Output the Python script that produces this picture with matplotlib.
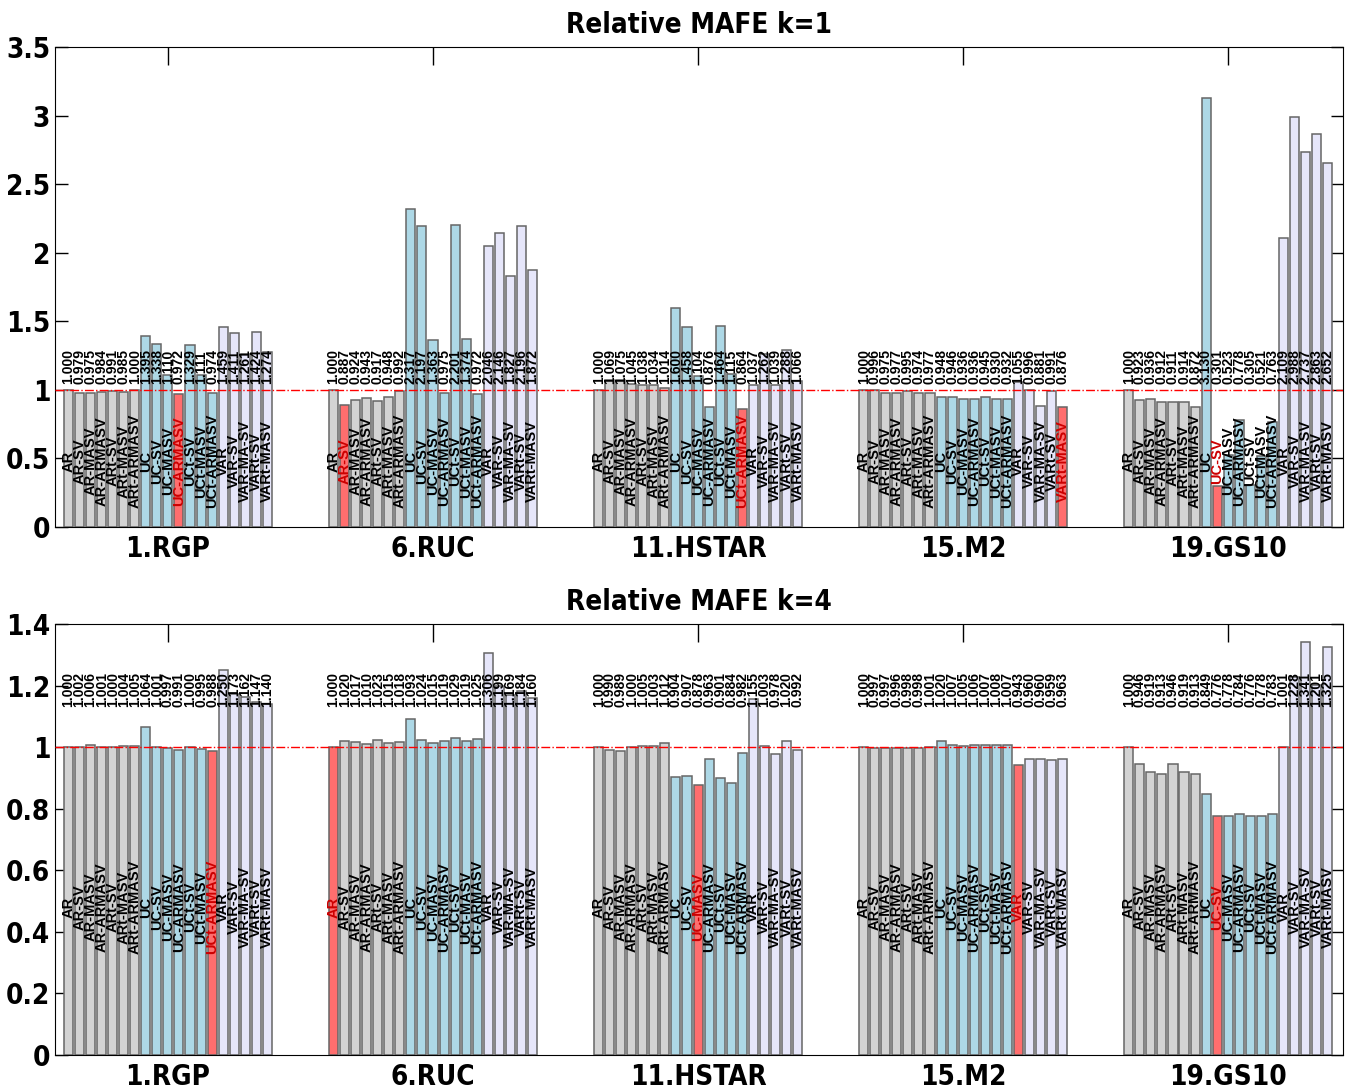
import matplotlib
matplotlib.use("Agg")
import matplotlib.pyplot as plt

# model names (same order in every group)
models = ["AR", "AR-SV", "AR-MASV", "AR-ARMASV", "ARt-SV", "ARt-MASV", "ARt-ARMASV",
          "UC", "UC-SV", "UC-MASV", "UC-ARMASV", "UCt-SV", "UCt-MASV", "UCt-ARMASV",
          "VAR", "VAR-SV", "VAR-MA-SV", "VARt-SV", "VARt-MASV"]
series = ["1.RGP", "6.RUC", "11.HSTAR", "15.M2", "19.GS10"]

# relative MAFE, horizon k=1
k1_rgp = [1.000, 0.979, 0.975, 0.984, 0.991, 0.985, 1.000, 1.395, 1.338, 1.110, 0.972, 1.329, 1.111, 0.974, 1.459, 1.411, 1.261, 1.424, 1.274]
k1_ruc = [1.000, 0.887, 0.924, 0.943, 0.917, 0.948, 0.992, 2.317, 2.197, 1.363, 0.975, 2.201, 1.374, 0.972, 2.046, 2.146, 1.827, 2.196, 1.872]
k1_hstar = [1.000, 1.069, 1.075, 1.045, 1.038, 1.034, 1.014, 1.600, 1.458, 1.104, 0.876, 1.464, 1.115, 0.864, 1.037, 1.262, 1.039, 1.288, 1.066]
k1_m2 = [1.000, 0.996, 0.975, 0.977, 0.995, 0.974, 0.977, 0.948, 0.946, 0.936, 0.936, 0.945, 0.930, 0.932, 1.055, 0.996, 0.881, 0.991, 0.876]
k1_gs10 = [1.000, 0.923, 0.936, 0.912, 0.911, 0.914, 0.872, 3.130, 0.301, 0.523, 0.778, 0.305, 0.521, 0.763, 2.109, 2.988, 2.737, 2.863, 2.652]
k1_best = [10, 1, 13, 18, 8]

# relative MAFE, horizon k=4
k4_rgp = [1.000, 1.002, 1.006, 1.001, 1.000, 1.004, 1.005, 1.064, 1.001, 0.997, 0.991, 1.000, 0.995, 0.988, 1.250, 1.173, 1.162, 1.147, 1.140]
k4_ruc = [1.000, 1.020, 1.017, 1.010, 1.023, 1.015, 1.018, 1.093, 1.024, 1.015, 1.019, 1.029, 1.019, 1.025, 1.306, 1.199, 1.169, 1.184, 1.160]
k4_hstar = [1.000, 0.990, 0.989, 1.000, 1.005, 1.003, 1.012, 0.904, 0.907, 0.878, 0.963, 0.901, 0.884, 0.982, 1.155, 1.003, 0.978, 1.020, 0.992]
k4_m2 = [1.000, 0.997, 0.997, 0.996, 0.998, 0.998, 1.001, 1.020, 1.007, 1.005, 1.006, 1.007, 1.008, 1.007, 0.943, 0.960, 0.960, 0.959, 0.963]
k4_gs10 = [1.000, 0.946, 0.919, 0.913, 0.946, 0.919, 0.913, 0.849, 0.776, 0.778, 0.784, 0.776, 0.778, 0.783, 1.001, 1.228, 1.341, 1.201, 1.325]
k4_best = [13, 0, 9, 14, 8]

GREY = "#d3d3d3"
BLUE = "#add8e6"
LAV = "#e6e6fa"
RED = "#ff6e6e"
GAP = 24  # bar slots per group
BIG = dict(fontsize=20, fontweight="bold", family="DejaVu Sans", fontstretch="condensed")


def bar_color(i):
    if i < 7:
        return GREY
    if i < 14:
        return BLUE
    return LAV


def draw(ax, groups, best, ymax, yticks, val_y, title):
    for g, vals in enumerate(groups):
        for i, v in enumerate(vals):
            x = g * GAP + i
            c = RED if i == best[g] else bar_color(i)
            ax.bar(x, v, width=0.82, color=c, edgecolor="#666666", linewidth=1.1, zorder=2)
            ax.text(x, val_y, "%.3f" % v, rotation=90, ha="center", va="bottom",
                    fontsize=10, fontweight="bold", family="Liberation Sans", zorder=4)
            lab_color = "#cc0000" if i == best[g] else "black"
            ax.text(x, 0.48, models[i], rotation=90,
                    ha="center", va="center", fontsize=10.5, fontweight="bold",
                    family="Liberation Sans", color=lab_color, zorder=4)
    ax.axhline(1.0, color="red", linestyle="-.", linewidth=1.0, zorder=3)
    ax.set_xlim(-1.22, 4 * GAP + 18 + 1.4)
    ax.set_ylim(0, ymax)
    ax.set_xticks([g * GAP + 9 for g in range(len(groups))])
    ax.set_xticklabels(series, **BIG)
    ax.set_yticks(yticks)
    ax.set_yticklabels(["%g" % t for t in yticks], **BIG)
    ax.tick_params(axis="y", direction="in", length=9, right=True, width=1)
    ax.tick_params(axis="x", direction="in", length=13, top=True, width=1, pad=6)
    ax.set_title(title, pad=10, **BIG)


fig = plt.figure(figsize=(13.49, 10.9), dpi=100)
ax1 = fig.add_axes([0.0408, 0.5165, 0.9548, 0.4404])
ax2 = fig.add_axes([0.0408, 0.0321, 0.9548, 0.3954])

draw(ax1, [k1_rgp, k1_ruc, k1_hstar, k1_m2, k1_gs10], k1_best, 3.5,
     [0, 0.5, 1, 1.5, 2, 2.5, 3, 3.5], 1.04, "Relative MAFE k=1")
draw(ax2, [k4_rgp, k4_ruc, k4_hstar, k4_m2, k4_gs10], k4_best, 1.4,
     [0, 0.2, 0.4, 0.6, 0.8, 1.0, 1.2, 1.4], 1.13, "Relative MAFE k=4")

fig.savefig("out.png", dpi=100)
